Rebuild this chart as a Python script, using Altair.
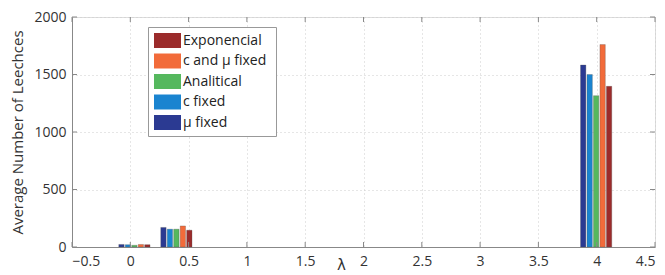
import altair as alt
import pandas as pd

lambdas = [0.04, 0.4, 4.0]
series = ["μ fixed", "c fixed", "Analitical", "c and  μ fixed", "Exponencial"]
values = {
    "μ fixed":        [22, 170, 1582],
    "c fixed":        [20, 155, 1500],
    "Analitical":     [15, 155, 1316],
    "c and  μ fixed": [22, 183, 1760],
    "Exponencial":    [20, 146, 1397],
}
legend_order = ["Exponencial", "c and  μ fixed", "Analitical", "c fixed", "μ fixed"]
colors = ["#9B2B2B", "#F26B3A", "#55B85E", "#1A84D0", "#2B3A92"]
x_ticks = [-0.5, 0, 0.5, 1, 1.5, 2, 2.5, 3, 3.5, 4, 4.5]
y_ticks = [0, 500, 1000, 1500, 2000]

rows = []
for i, s in enumerate(series):
    for lam, v in zip(lambdas, values[s]):
        rows.append({"lam": lam, "series": s, "idx": i, "value": v})
df = pd.DataFrame(rows)

pitch = 0.0555
bw = 0.046
H = 230

bars = alt.Chart(df).transform_calculate(
    x0=f"datum.lam - 2.5*{pitch} + datum.idx*{pitch}",
    x1=f"datum.lam - 2.5*{pitch} + datum.idx*{pitch} + {bw}",
).mark_bar(strokeWidth=0.6, stroke="#555", strokeOpacity=0.5).encode(
    x=alt.X("x0:Q", scale=alt.Scale(domain=[-0.5, 4.5], nice=False, zero=False),
            axis=alt.Axis(values=x_ticks, title="λ", titleX=269, titleY=22,
                          titleBaseline="alphabetic",
                          titleFontWeight="normal", titleFontSize=15, titleFont="DejaVu Sans",
                          titleColor="#333",
                          labelFontSize=14, labelFont="Open Sans", labelColor="#333",
                          tickSize=0, labelPadding=7, domainColor="#888",
                          grid=True, gridDash=[1, 3], gridColor="#ccc",
                          labelExpr="datum.value < 0 ? '−' + format(-datum.value, '') : format(datum.value, '')")),
    x2="x1:Q",
    y=alt.Y("value:Q", scale=alt.Scale(domain=[0, 2000], nice=False),
            axis=alt.Axis(values=y_ticks, format="d", title="Average Number of Leechces",
                          titleFontWeight="normal", titleFontSize=15, titleFont="Open Sans",
                          titleColor="#333", titlePadding=8,
                          labelFontSize=14, labelFont="Open Sans", labelColor="#333",
                          tickSize=0, labelPadding=6, domainColor="#888",
                          grid=True, gridDash=[1, 3], gridColor="#ccc")),
    y2=alt.datum(0),
    color=alt.Color("series:N", scale=alt.Scale(domain=legend_order, range=colors),
                    legend=alt.Legend(orient="none", legendX=76, legendY=10, title=None,
                                      symbolType="M-1.8,-1H1.8V1H-1.8Z", symbolSize=225,
                                      symbolOffset=6, labelOffset=8,
                                      symbolStrokeWidth=0, labelFontSize=14, labelFont="Open Sans",
                                      labelColor="#222", rowPadding=5.5, padding=6,
                                      strokeColor="#999", fillColor="white")),
)

xt = pd.DataFrame({"t": x_ticks})
xticks = alt.Chart(xt).mark_rule(color="#888", strokeWidth=1).encode(
    x="t:Q", y=alt.value(H), y2=alt.value(H - 5))
xticks_top = alt.Chart(xt).mark_rule(color="#888", strokeWidth=1).encode(
    x="t:Q", y=alt.value(0), y2=alt.value(5))
yt = pd.DataFrame({"t": y_ticks})
yticks = alt.Chart(yt).mark_rule(color="#888", strokeWidth=1).encode(
    y="t:Q", x=alt.value(0), x2=alt.value(5))
yticks_r = alt.Chart(yt).mark_rule(color="#888", strokeWidth=1).encode(
    y="t:Q", x=alt.value(583), x2=alt.value(578))

chart = alt.layer(bars, xticks, xticks_top, yticks, yticks_r).properties(
    width=583, height=H,
    autosize=alt.AutoSizeParams(type="none"),
    padding={"left": 64, "top": 9, "right": 2, "bottom": 28},
).configure_view(stroke="#888", strokeWidth=1).configure(background="white")

chart.save("out.html", embed_options={"renderer": "svg", "actions": False})
